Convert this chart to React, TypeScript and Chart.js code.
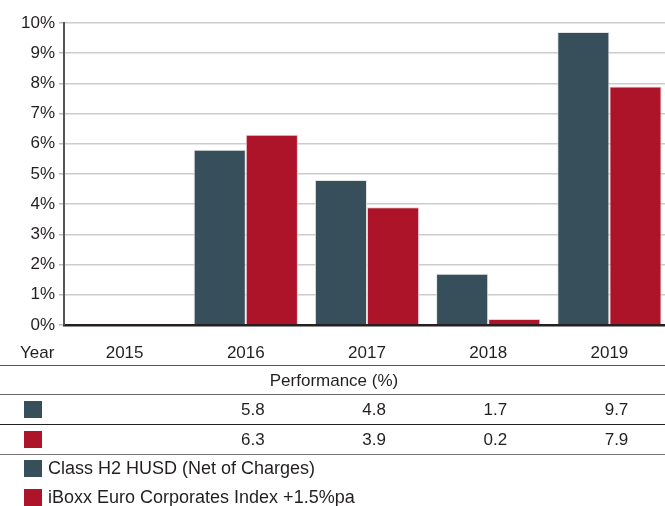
import React, { useEffect, useRef } from "react";
import { Chart, registerables } from "chart.js";

Chart.register(...registerables);

const years = ["2015", "2016", "2017", "2018", "2019"];
const fundValues: (number | null)[] = [null, 5.8, 4.8, 1.7, 9.7];
const indexValues: (number | null)[] = [null, 6.3, 3.9, 0.2, 7.9];
const fundLabel = "Class H2 HUSD (Net of Charges)";
const indexLabel = "iBoxx Euro Corporates Index +1.5%pa";
const tableTitle = "Performance (%)";
const rowHeader = "Year";

const DARK = "#374f5b";
const RED = "#ae1429";
const TEXT = "#231f20";
const FAMILY = "'Liberation Sans', Arial, sans-serif";
const FONT = "17px " + FAMILY;
const LEGEND_FONT = "18px " + FAMILY;

const tablePlugin = {
  id: "tablePlugin",
  afterDraw(chart: any) {
    const ctx = chart.ctx;
    const xs = chart.scales.x;
    const W = chart.width;
    ctx.save();
    ctx.font = FONT;
    ctx.fillStyle = TEXT;
    ctx.textBaseline = "middle";

    const line = (y: number, color: string, w = 1) => {
      ctx.beginPath();
      ctx.strokeStyle = color;
      ctx.lineWidth = w;
      ctx.moveTo(0, y);
      ctx.lineTo(W, y);
      ctx.stroke();
    };

    // header row
    ctx.textAlign = "left";
    ctx.fillText(rowHeader, 20, 353);
    const rights: number[] = [];
    years.forEach((y, i) => {
      const cx = xs.getPixelForValue(i);
      ctx.textAlign = "center";
      ctx.fillText(y, cx, 353);
      rights.push(cx + ctx.measureText(y).width / 2);
    });
    line(365.5, "#555555");

    ctx.textAlign = "center";
    ctx.fillText(tableTitle, 334, 381);
    line(394.5, "#666666");

    // row 1
    ctx.fillStyle = DARK;
    ctx.fillRect(24, 401, 18, 17);
    ctx.fillStyle = TEXT;
    ctx.textAlign = "right";
    fundValues.forEach((v, i) => {
      if (v !== null) ctx.fillText(v.toFixed(1), rights[i], 410);
    });
    line(424.5, "#222222");

    // row 2
    ctx.fillStyle = RED;
    ctx.fillRect(24, 431, 18, 17);
    ctx.fillStyle = TEXT;
    indexValues.forEach((v, i) => {
      if (v !== null) ctx.fillText(v.toFixed(1), rights[i], 440);
    });
    line(454.5, "#777777");

    // legend
    ctx.fillStyle = DARK;
    ctx.fillRect(24, 460, 18, 17);
    ctx.fillStyle = RED;
    ctx.fillRect(24, 489, 18, 17);
    ctx.fillStyle = TEXT;
    ctx.font = LEGEND_FONT;
    ctx.textAlign = "left";
    ctx.fillText(fundLabel, 48, 469);
    ctx.fillText(indexLabel, 48, 498);
    ctx.restore();
  },
};

export default function App() {
  const ref = useRef<HTMLCanvasElement>(null);
  useEffect(() => {
    document.body.style.margin = "0";
    const chart = new Chart(ref.current!, {
      type: "bar",
      data: {
        labels: years,
        datasets: [
          {
            label: fundLabel,
            data: fundValues,
            backgroundColor: DARK,
            borderColor: "rgba(225,225,225,0.9)",
            borderWidth: 1,
            categoryPercentage: 0.86,
            barPercentage: 1,
          },
          {
            label: indexLabel,
            data: indexValues,
            backgroundColor: RED,
            borderColor: "rgba(235,200,205,0.9)",
            borderWidth: 1,
            categoryPercentage: 0.86,
            barPercentage: 1,
          },
        ],
      },
      options: {
        animation: false,
        responsive: false,
        devicePixelRatio: 1,
        layout: { padding: { top: 23, bottom: 181, left: 0, right: 0 } },
        plugins: { legend: { display: false }, tooltip: { enabled: false } },
        scales: {
          x: {
            grid: { display: false, drawTicks: false },
            ticks: { display: false },
            border: { color: TEXT, width: 2.5 },
          },
          y: {
            min: 0,
            max: 10,
            afterFit(scale: any) {
              scale.width = 64;
            },
            ticks: {
              stepSize: 1,
              padding: 4,
              color: TEXT,
              font: { family: FAMILY, size: 17 },
              callback: (v: any) => v + "%",
            },
            grid: {
              color: "#cccccc",
              lineWidth: 1.5,
              tickLength: 5,
              tickColor: "#bbbbbb",
            },
            border: { color: "#555555", width: 2 },
          },
        },
      },
      plugins: [tablePlugin],
    });
    return () => chart.destroy();
  }, []);
  return (
    <div style={{ width: 665, height: 506, overflow: "hidden" }}>
      <canvas ref={ref} width={670} height={506} style={{ display: "block" }} />
    </div>
  );
}
